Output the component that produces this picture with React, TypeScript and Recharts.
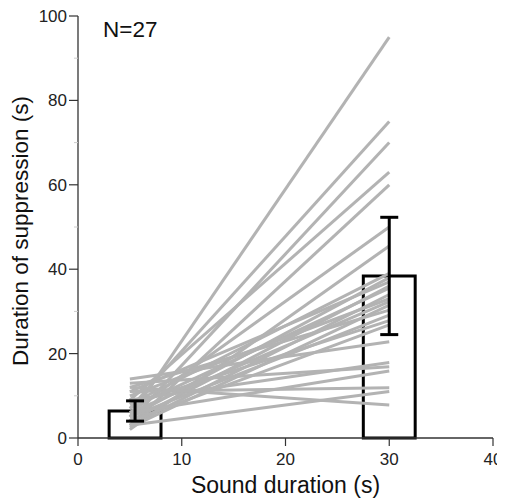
import React from 'react';
import { ComposedChart, Line, XAxis, YAxis, ReferenceArea, Scatter, ErrorBar, Label } from 'recharts';

// Sound durations (s) of the two conditions
const SHORT_SOUND = 5;
const LONG_SOUND = 30;

// Per-subject duration of suppression (s), paired by index
const shortSuppression = [5, 7, 4, 9, 3, 6, 2, 8, 5, 11, 4, 7, 3, 10, 6, 2.5, 12, 5, 8, 4, 14, 9, 13, 6, 11, 3, 12];
const longSuppression = [95, 75, 70, 63, 60, 50, 45.5, 39, 38, 37, 36, 35.5, 34, 33, 32.3, 31.5, 30.3, 29.1, 27.8, 26.8, 22.8, 17.9, 16.9, 15.9, 11.9, 11, 7.8];

// Group means and error (s)
const barCenters = [5.5, 30];
const barMeans = [6.4, 38.4];
const barErrors = [2.4, 13.9];

const xTicks = [0, 10, 20, 30, 40];
const yTicks = [0, 10, 20, 30, 40, 50, 60, 70, 80, 90, 100];

const BAR_HALF_WIDTH = 2.5;
const FONT = '"Liberation Sans", Arial, Helvetica, sans-serif';

const pairs = shortSuppression.map((s, i) => [
  { x: SHORT_SOUND, y: s },
  { x: LONG_SOUND, y: longSuppression[i] },
]);

const errData = barCenters.map((x, i) => ({ x, y: barMeans[i], err: barErrors[i] }));

const YTick = (props: any) => {
  const { x, y, payload } = props;
  const v = payload.value;
  const major = v % 20 === 0;
  return (
    <g>
      {major ? (
        <>
          <line x1={x - 9} x2={x} y1={y} y2={y} stroke="#333" strokeWidth={1.2} />
          <text x={x - 11} y={y} dy={6} textAnchor="end" fontSize={17} fontFamily={FONT} fill="#222">
            {v}
          </text>
        </>
      ) : (
        <line x1={x - 4} x2={x} y1={y} y2={y} stroke="#ccc" strokeWidth={1} />
      )}
    </g>
  );
};

const XTick = (props: any) => {
  const { x, y, payload } = props;
  return (
    <g>
      <line x1={x} x2={x} y1={y} y2={y + 8} stroke="#333" strokeWidth={1.2} />
      <text x={x} y={y + 27} textAnchor="middle" fontSize={17} fontFamily={FONT} fill="#222">
        {payload.value}
      </text>
    </g>
  );
};

export default function App() {
  return (
    <ComposedChart width={497} height={491} margin={{ top: 8, right: 12, bottom: 6, left: 10 }}>
      <XAxis
        dataKey="x"
        type="number"
        domain={[0, 40]}
        ticks={xTicks}
        tick={<XTick />}
        tickLine={false}
        tickSize={0}
        tickMargin={0}
        axisLine={{ stroke: '#333', strokeWidth: 1.3 }}
        height={55}
        allowDataOverflow
      >
        <Label
          value="Sound duration (s)"
          position="insideBottom"
          offset={0}
          style={{ fontSize: 23, fontFamily: FONT, fill: '#111' }}
        />
      </XAxis>
      <YAxis
        type="number"
        domain={[0, 100]}
        ticks={yTicks}
        tick={<YTick />}
        tickLine={false}
        tickSize={0}
        tickMargin={0}
        axisLine={{ stroke: '#333', strokeWidth: 1.3 }}
        width={60}
        interval={0}
        allowDataOverflow
      >
        <Label
          value="Duration of suppression (s)"
          angle={-90}
          position="insideLeft"
          offset={2}
          dy={4}
          textAnchor="middle"
          style={{ fontSize: 22.5, fontFamily: FONT, fill: '#111', textAnchor: 'middle' }}
        />
      </YAxis>
      {barCenters.map((c, i) => (
        <ReferenceArea
          key={'bar' + i}
          x1={c - BAR_HALF_WIDTH}
          x2={c + BAR_HALF_WIDTH}
          y1={0}
          y2={barMeans[i]}
          fill="#fff"
          fillOpacity={0}
          stroke="#000"
          strokeWidth={3}
          strokeOpacity={1}
          zIndex={50}
        />
      ))}
      {pairs.map((d, i) => (
        <Line
          key={'l' + i}
          data={d}
          dataKey="y"
          type="linear"
          stroke="#b3b3b3"
          strokeWidth={3}
          dot={false}
          activeDot={false}
          isAnimationActive={false}
        />
      ))}
      <Scatter data={errData} dataKey="y" shape={() => <g />} isAnimationActive={false}>
        <ErrorBar dataKey="err" direction="y" width={9} stroke="#000" strokeWidth={3} isAnimationActive={false} />
      </Scatter>
      <text x={95} y={29} fontSize={22.5} fontFamily={FONT} fill="#111">
        N=27
      </text>
    </ComposedChart>
  );
}
